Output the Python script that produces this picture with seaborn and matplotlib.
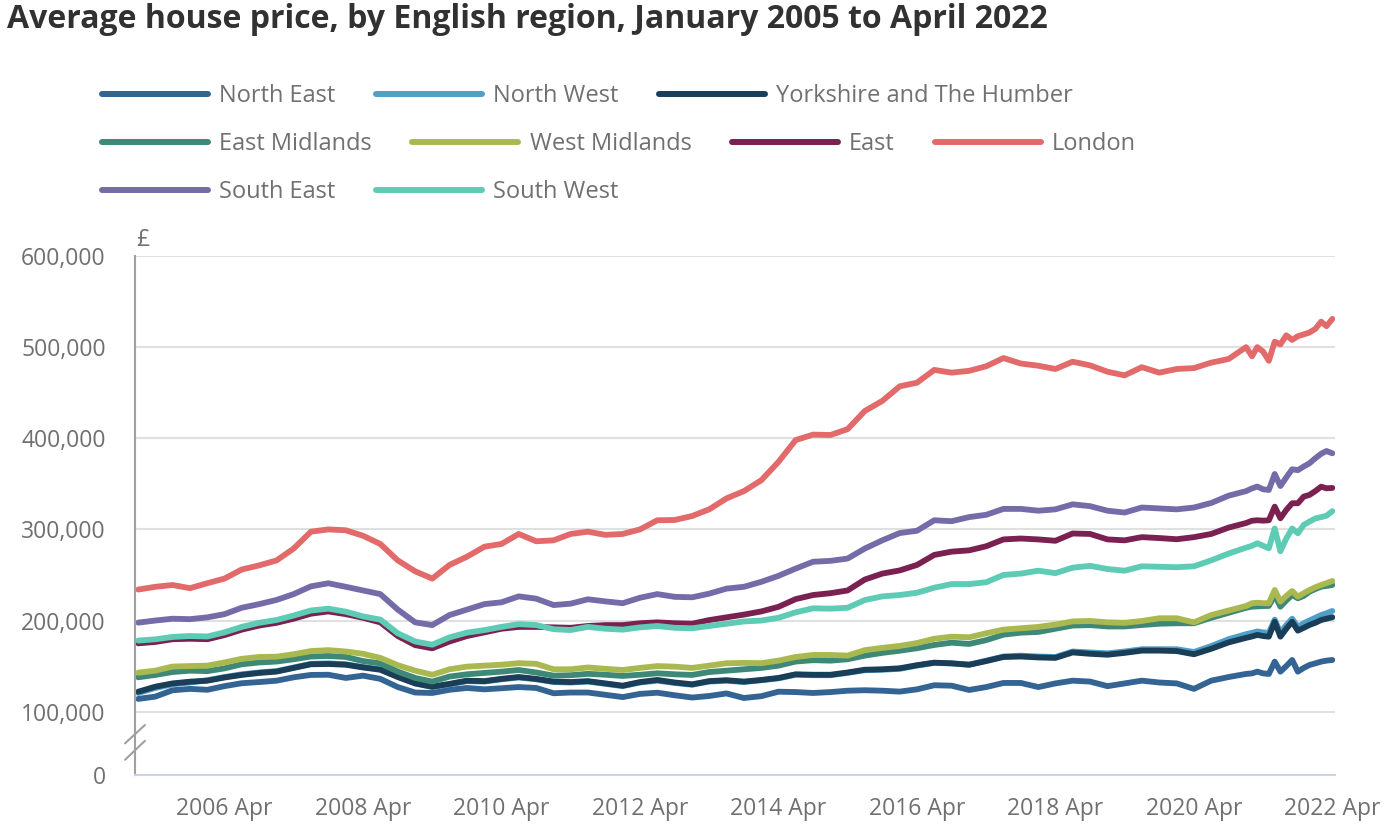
import numpy as np
import pandas as pd
import matplotlib
matplotlib.use("Agg")
import matplotlib.pyplot as plt
import matplotlib.dates as mdates
import matplotlib.transforms as mtransforms
from matplotlib.lines import Line2D
from matplotlib.ticker import FuncFormatter, NullLocator
import seaborn as sns

# quarterly readings Jan 2005 - Jan 2021, then monthly Feb 2021 - Apr 2022
dates = (list(pd.date_range("2005-01-01", "2021-01-01", freq="QS-JAN"))
         + list(pd.date_range("2021-02-01", "2022-04-01", freq="MS")))

regions = ["North East", "North West", "Yorkshire and The Humber",
           "East Midlands", "West Midlands", "East", "London",
           "South East", "South West"]
colours = ["#336494", "#4f9fc8", "#1a3d58", "#3e8878", "#aab94f",
           "#7b2152", "#e36a6a", "#736ca9", "#5ecbb4"]

# average prices, £ thousands
north_east = [114, 116.5, 123.5, 125, 124, 128, 131.2, 132.5, 134, 137.7, 140.3, 140.5, 137,
              139.5, 136, 127, 121, 120.5, 124, 126, 124.5, 125.7, 127, 126, 120.2, 121,
              121, 118.5, 116, 119.5, 120.8, 118, 115.5, 117.2, 120, 115, 117, 121.9, 121.5,
              120.5, 121.5, 123, 123.5, 123, 122, 124.5, 129, 128.5, 123.8, 127, 131.5, 131.5,
              127, 131, 134, 133, 128, 131, 134, 132, 131, 125, 134, 138, 141.4,
              142, 143.9, 142, 141.4, 154.9, 143.9, 150, 156.7, 143.9, 148, 151.2, 153, 154.9, 156, 156.7]
north_west = [120.5, 126, 130, 132, 134.5, 138, 141, 143, 144.5, 148.5, 152.5, 153, 152,
              149, 146.5, 138.5, 131, 127, 130, 133.5, 133, 135.5, 137.5, 135.5, 132.5, 132,
              133, 130.5, 128, 132, 134, 131.5, 129.5, 133, 134, 132.5, 134.5, 136.5, 140.5,
              140, 140, 142.5, 145.5, 146, 147, 150.5, 153.5, 153, 151.5, 156, 160.5, 161.5,
              160.5, 160, 166, 165, 164, 166, 168.5, 168.5, 168.5, 165.5, 172, 179.5, 185,
              186.5, 188, 187, 186.5, 201, 186.5, 195, 202, 193, 197, 200, 203, 206, 208, 210.5]
yorkshire = [121.9, 127.4, 131, 132.9, 134, 137.5, 140.3, 142.5, 144, 148, 152, 152.3, 151.5,
             148.5, 146, 138, 131, 127.4, 130.5, 134, 133.5, 136, 138, 136, 133, 132.5,
             133.5, 131, 128.5, 132.5, 134.8, 132, 130, 133.5, 134.5, 133, 134.8, 137, 141,
             140.5, 140.5, 143, 146, 146.5, 147.6, 151, 153.8, 153, 151.5, 155.5, 160, 160.5,
             159.5, 159, 165, 163.5, 162.5, 164.5, 167, 167, 166.5, 163, 169, 176, 181,
             182.5, 184.2, 183, 182.3, 198.7, 182.3, 191, 198.7, 188.9, 192, 195.1, 197.5, 200.6, 202, 203.6]
east_midlands = [137.7, 140.3, 143.5, 145, 144.5, 147.5, 152, 154, 155, 157.5, 160.5, 161.1, 160,
                 155.5, 153, 144, 137, 133, 138.5, 141, 142.5, 143.9, 145.7, 143, 139.5, 140,
                 141.5, 140.5, 139.2, 140.5, 142.1, 141, 140.3, 143.5, 145, 146.5, 148, 150.5, 155,
                 156.5, 156, 157.5, 161.5, 164.5, 166.9, 169.6, 173.2, 175.7, 174.3, 178.5, 184.5, 186.7,
                 187.5, 191, 194.5, 195, 193.5, 193.5, 195.1, 196.5, 197, 197, 203, 208.5, 214,
                 215.2, 215.5, 215.9, 216, 228, 215.2, 222, 228, 224.4, 227, 231.7, 234.5, 237.1, 238, 239]
west_midlands = [142.8, 145, 149.5, 150, 150.5, 154, 158, 160, 160.3, 163, 166.5, 167.5, 166,
                 163.5, 159, 151, 145, 140.5, 146.5, 149.4, 150.5, 151.5, 153.2, 152.5, 146.5, 146.5,
                 148.5, 147, 145.7, 148, 150, 149.4, 148, 150.5, 153.1, 153.5, 153.2, 156, 160,
                 162.2, 162.2, 161.5, 167.5, 170, 172.1, 175.3, 180, 182.3, 181.6, 186, 190, 191.5,
                 193, 195.5, 199, 199.5, 198, 197.5, 199.5, 202.5, 202.5, 198, 206, 211, 216,
                 219, 219.5, 219, 219, 233.5, 220.7, 227, 232.4, 226.2, 230, 233.5, 236.5, 239, 241, 243.4]
east = [175, 176.5, 179.5, 180, 179.5, 184, 190, 194.5, 197.5, 202, 207.5, 210, 207,
        203, 198, 183, 173, 169.5, 177, 183, 187, 191, 193, 193, 192.5, 192,
        194, 195, 195, 197, 198, 197, 196.5, 200.5, 203.5, 206.5, 210, 215, 223.5,
        228, 230, 233, 245, 251.5, 255, 261, 272, 275.6, 277, 281.5, 289, 290,
        289, 287.5, 295.5, 295, 289, 288, 291.5, 290.5, 289.2, 291.5, 295, 302, 307,
        309.5, 310, 309.6, 310, 325, 312.2, 321.3, 328.7, 328.7, 336, 337.8, 342, 346.9, 345.1, 345.5]
london = [234, 237, 239, 235.5, 241, 246, 256, 260.5, 266, 279, 297.5, 300, 299,
          293, 284, 266, 254, 246, 261, 270, 281, 284, 295, 287, 288, 295,
          297.5, 294, 295, 300, 310, 310.3, 314.7, 322, 334, 342, 354, 374, 398,
          404, 403.6, 410, 430, 441, 457, 461, 475, 472, 474, 479, 488, 482,
          479.6, 476, 484, 480, 473, 469, 478, 472, 476, 477, 483, 487, 500,
          490, 500, 495, 485, 506, 503, 513, 508, 512, 514, 516, 520, 528, 523, 531]
south_east = [197.7, 200, 202, 201.5, 203.5, 207, 214, 218, 222.6, 229, 237.5, 240.9, 237,
              233, 229, 212, 198, 195, 206, 212, 218, 220, 226.5, 224, 217, 218.5,
              223.3, 221, 219, 225, 229, 226, 225.5, 229.5, 235, 237, 242.5, 249, 257,
              264.5, 265.5, 268, 279, 288, 296, 298.5, 310, 309, 313.5, 316, 322.5, 322.5,
              320.5, 322, 327.5, 325.5, 320.5, 318.5, 324, 323, 322, 324, 329, 337, 342,
              345, 347, 344, 343.3, 360.8, 347.6, 357, 366, 365, 369, 372.5, 378, 383, 386, 383.5]
south_west = [178, 179.4, 182, 183, 182.5, 187, 193, 197.5, 200.6, 205.5, 211, 213, 209.7,
              204.5, 201, 186, 177, 173.5, 181.5, 186.7, 189.5, 193, 196, 195, 190.5, 189.6,
              193, 191, 190, 192.5, 194, 192, 191.5, 194, 196.5, 199, 200, 203, 209,
              213.4, 213, 214, 222.5, 226.5, 228, 230.5, 236, 240, 240, 242, 250, 251.5,
              254.7, 252, 258, 260, 256.5, 254.7, 259.5, 259, 258.5, 259.5, 266, 273.5, 280,
              282, 284.8, 282, 279.3, 301, 276, 290, 301, 295.7, 305, 308.5, 312, 313.5, 315, 320]

series = [north_east, north_west, yorkshire, east_midlands, west_midlands,
          east, london, south_east, south_west]

wide = pd.DataFrame({"date": dates})
for name, vals in zip(regions, series):
    wide[name] = np.array(vals) * 1000
df = wide.melt(id_vars="date", var_name="region", value_name="price")

palette = dict(zip(regions, colours))
GREY = "#707071"

sns.set_style("white")
plt.rcParams["font.family"] = ["Open Sans", "DejaVu Sans"]

fig = plt.figure(figsize=(13.86, 8.32), dpi=100)
ax = fig.add_axes([135 / 1386, 1 - 775 / 832, 1200 / 1386, (775 - 256) / 832])

sns.lineplot(data=df, x="date", y="price", hue="region", hue_order=regions,
             palette=palette, linewidth=4.2, errorbar=None, legend=False, ax=ax)

# squash the 0-100,000 band (broken axis)
SQUASH = 0.695


def fwd(v):
    v = np.asarray(v, dtype=float)
    return np.where(v >= 1e5, v, 1e5 - (1e5 - v) * SQUASH)


def inv(u):
    u = np.asarray(u, dtype=float)
    return np.where(u >= 1e5, u, 1e5 - (1e5 - u) / SQUASH)


ax.set_yscale("function", functions=(fwd, inv))
ax.set_ylim(0, 600000)
ax.set_yticks(range(0, 600001, 100000))
ax.yaxis.set_minor_locator(NullLocator())
ax.yaxis.set_major_formatter(FuncFormatter(lambda v, p: f"{v:,.0f}"))
ax.tick_params(axis="y", length=0, pad=21, labelsize=16.5, labelcolor=GREY)
ax.grid(axis="y", color="#e0e0e0", linewidth=1.5)
ax.set_axisbelow(True)

ax.set_xticks(pd.date_range("2006-04-01", "2022-04-01", freq="24MS"))
ax.xaxis.set_major_formatter(mdates.DateFormatter("%Y %b"))
ax.xaxis.set_minor_locator(NullLocator())
ax.tick_params(axis="x", length=13, width=1.5, color="#c9d3e3", pad=3,
               labelsize=16.5, labelcolor=GREY)
ax.set_xlim(pd.Timestamp("2004-12-15"), pd.Timestamp("2022-04-15"))
ax.set_xlabel("")
ax.set_ylabel("")

for side in ["top", "right"]:
    ax.spines[side].set_visible(False)
ax.spines["left"].set_color("#a0a0a0")
ax.spines["left"].set_linewidth(1.5)
ax.spines["bottom"].set_color("#c9d3e3")
ax.spines["bottom"].set_linewidth(1.5)

# break marks on the y axis
brk = mtransforms.blended_transform_factory(ax.transAxes, ax.transData)
for lo, hi in [(50000, 79000), (24000, 54000)]:
    ax.plot([-0.0083, 0.0083], [lo, hi], transform=brk, color="#a0a0a0",
            linewidth=1.5, clip_on=False)

ax.text(0, 1, "£", transform=mtransforms.offset_copy(ax.transAxes, fig, x=1, y=4, units="dots"),
        ha="left", va="bottom", fontsize=16.5, color=GREY)

fig.text(7 / 1386, 1 - 3 / 832,
         "Average house price, by English region, January 2005 to April 2022",
         ha="left", va="top", fontsize=23, fontweight="bold", color="#323132")

# legend rows flow left to right
rows = [regions[0:3], regions[3:7], regions[7:9]]
row_y = [96, 144, 192]
for names, y in zip(rows, row_y):
    handles = [Line2D([], [], color=palette[n], linewidth=4.3) for n in names]
    leg = fig.legend(handles, names, loc="center left",
                     bbox_to_anchor=(102 / 1386, 1 - y / 832), ncol=len(names),
                     frameon=False, fontsize=17, handlelength=4.5,
                     handletextpad=0.47, columnspacing=1.7,
                     borderpad=0, borderaxespad=0)
    for t in leg.get_texts():
        t.set_color(GREY)

fig.savefig("out.png", dpi=100)
